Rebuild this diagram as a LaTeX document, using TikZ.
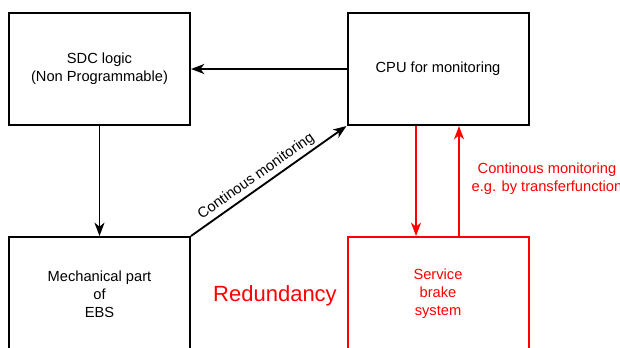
\documentclass[tikz,border=0pt]{standalone}
\usepackage{fontspec}
\setmainfont{Liberation Sans}
\usetikzlibrary{arrows.meta}
\tikzset{
  box/.style={draw, line width=1.5pt, minimum width=135.75pt, minimum height=84pt,
    align=center, font=\fontsize{11}{13.5}\selectfont},
  redbox/.style={box, draw=red, text=red},
  arr/.style={line width=1.4pt, -{Stealth[length=10pt,width=7.5pt,inset=3pt]}},
}
\begin{document}
\begin{tikzpicture}[x=0.75pt,y=-0.75pt]
\clip (0,0) rectangle (620,347);
\node[box] (sdc) at (99.5,69) {SDC logic\\(Non Programmable)};
\node[box] (cpu) at (438,69) {CPU for monitoring};
\node[box, minimum height=85.5pt] (ebs) at (99.5,294) {Mechanical part\\of\\EBS};
\node[redbox, minimum height=85.5pt] (sbs) at (438,294) {Service\\brake\\system};
\node[text=red, font=\fontsize{16.5}{20}\selectfont] (rdy) at (275,296) {Redundancy};
\node[text=red, align=center, font=\fontsize{11}{13.5}\selectfont] (tfl) at (547,179)
  {Continous monitoring\\e.g. by transferfunction};

\path[draw,arr] (cpu) -- (sdc);
\path[draw,arr] (sdc) -- (ebs);
\path[draw,arr] (ebs.north east) -- node[sloped, above=-1pt, pos=0.46,
  font=\fontsize{11}{13.5}\selectfont] {Continous monitoring} (cpu.south west);
\path[draw,arr,red] ([xshift=-16.5pt]cpu.south) -- ([xshift=-16.5pt]sbs.north);
\path[draw,arr,red] ([xshift=15.75pt]sbs.north) -- ([xshift=15.75pt]cpu.south);
\end{tikzpicture}
\end{document}
